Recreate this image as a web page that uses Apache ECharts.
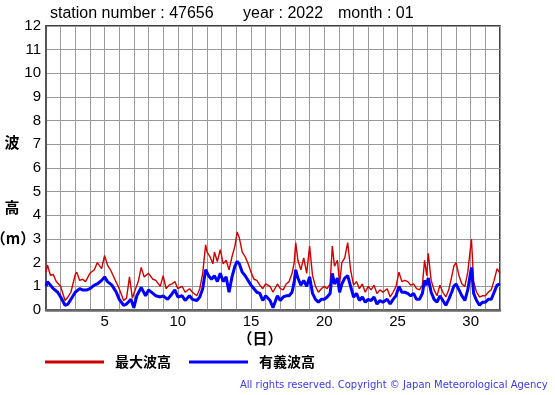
<!DOCTYPE html>
<html>
<head>
<meta charset="utf-8">
<script src="https://cdn.jsdelivr.net/npm/echarts@6/dist/echarts.min.js"></script>
<style>
html,body{margin:0;padding:0;background:#fff;}
#chart{width:555px;height:395px;}
</style>
</head>
<body>
<div id="chart"></div>
<script>
// Day of month (fractional) and maximum wave height (m)
const maxTimes = [1.0,1.1,1.3,1.5,1.7,2.0,2.3,2.5,2.7,3.0,3.1,3.3,3.5,3.7,4.0,4.3,4.5,4.8,5.0,5.2,5.4,5.7,6.0,6.3,6.5,6.7,6.9,7.0,7.3,7.5,7.7,8.0,8.3,8.5,8.8,9.0,
9.2,9.4,9.6,9.8,10.0,10.3,10.5,10.8,11.0,11.3,11.5,11.7,11.9,12.0,12.2,12.4,12.5,12.7,12.9,13.1,13.3,13.5,13.7,13.9,14.05,14.2,14.4,14.6,14.8,15.0,15.2,15.4,15.6,15.8,16.0,16.3,16.5,16.8,17.0,
17.2,17.4,17.6,17.8,17.95,18.05,18.2,18.4,18.6,18.8,19.0,19.2,19.4,19.6,19.8,20.0,20.2,20.4,20.55,20.7,20.9,21.05,21.2,21.4,21.6,21.8,22.0,22.2,22.4,22.6,22.8,23.0,23.2,23.4,23.6,23.8,24.0,
24.3,24.5,24.7,24.9,25.1,25.3,25.5,25.7,25.9,26.1,26.3,26.5,26.7,26.85,27.0,27.1,27.3,27.5,27.7,27.9,28.1,28.3,28.5,28.7,28.85,29.0,29.2,29.4,29.6,29.8,30.05,30.2,30.4,30.6,30.8,31.0,31.2,31.4,31.6,31.8,32.0];
const maxHeights = [1.6,1.9,1.47,1.5,1.2,1.0,0.4,0.55,0.75,1.5,1.6,1.25,1.3,1.2,1.55,1.7,2.0,1.75,2.3,1.9,1.7,1.3,0.9,0.4,0.5,1.4,0.5,0.7,1.2,1.8,1.4,1.55,1.3,1.25,1.0,1.45,
0.9,1.05,1.1,1.2,0.9,1.0,0.75,0.9,0.75,0.6,0.9,1.55,2.75,2.45,2.25,1.95,2.45,2.05,2.55,1.95,2.1,1.7,2.25,2.7,3.3,3.05,2.45,2.25,1.95,1.6,1.3,1.25,1.05,0.9,1.1,1.0,0.75,1.1,0.9,
0.85,1.1,1.2,1.55,2.0,2.85,2.1,1.7,2.2,1.55,2.7,1.45,1.0,0.75,0.9,1.0,0.9,1.1,2.7,1.85,2.1,1.1,2.0,2.2,2.85,1.7,1.05,1.2,0.9,1.1,0.75,1.0,0.85,1.05,0.7,0.85,0.75,
0.9,0.55,0.75,1.0,1.6,1.2,1.25,1.2,1.05,1.1,0.9,0.85,1.05,2.1,1.45,2.4,1.25,0.85,0.6,1.05,0.75,0.55,0.85,1.4,1.85,2.0,1.45,1.1,1.0,1.6,3.0,1.2,0.75,0.55,0.6,0.6,0.75,0.85,1.25,1.75,1.55];

// Day of month (fractional) and significant wave height (m)
const sigTimes = [1.0,1.1,1.3,1.5,1.8,2.0,2.3,2.5,2.8,3.0,3.3,3.5,3.8,4.0,4.3,4.5,4.8,5.0,5.2,5.5,5.8,6.0,6.3,6.5,6.8,7.0,7.2,7.5,7.8,8.0,8.3,8.5,8.8,9.0,
9.3,9.5,9.8,10.0,10.3,10.5,10.8,11.0,11.3,11.5,11.7,11.9,12.1,12.3,12.5,12.7,12.9,13.1,13.3,13.5,13.7,13.9,14.05,14.2,14.4,14.6,14.8,15.0,15.2,15.4,15.6,15.8,16.0,16.3,16.5,16.8,17.0,
17.2,17.4,17.6,17.8,17.95,18.05,18.2,18.4,18.6,18.8,19.0,19.2,19.4,19.6,19.8,20.0,20.2,20.4,20.55,20.7,20.9,21.05,21.2,21.4,21.6,21.8,22.0,22.2,22.4,22.6,22.8,23.0,23.2,23.4,23.6,23.8,24.0,
24.3,24.5,24.7,24.9,25.1,25.3,25.5,25.7,25.9,26.1,26.3,26.5,26.7,26.85,27.0,27.1,27.3,27.5,27.7,27.9,28.1,28.3,28.5,28.7,28.85,29.0,29.2,29.4,29.6,29.8,30.05,30.2,30.4,30.6,30.8,31.0,31.2,31.4,31.6,31.8,32.0];
const sigHeights = [1.0,1.2,1.05,0.9,0.75,0.55,0.2,0.25,0.55,0.75,0.9,0.85,0.85,0.9,1.05,1.1,1.25,1.4,1.2,1.05,0.75,0.45,0.2,0.25,0.45,0.1,0.6,0.95,0.6,0.85,0.7,0.6,0.55,0.6,
0.45,0.6,0.85,0.55,0.6,0.4,0.6,0.45,0.4,0.55,0.9,1.7,1.45,1.3,1.45,1.2,1.55,1.2,1.4,0.75,1.4,1.85,2.05,1.95,1.6,1.45,1.25,1.05,0.9,0.75,0.7,0.4,0.6,0.4,0.1,0.6,0.4,
0.55,0.6,0.6,0.75,1.2,1.7,1.35,1.05,1.25,1.0,1.4,0.7,0.45,0.33,0.45,0.45,0.55,0.7,1.55,1.1,1.35,0.75,1.1,1.35,1.45,1.0,0.55,0.7,0.4,0.55,0.33,0.45,0.4,0.55,0.25,0.4,0.33,
0.45,0.25,0.45,0.6,1.0,0.75,0.75,0.7,0.6,0.7,0.45,0.45,0.7,1.25,1.05,1.35,0.75,0.45,0.33,0.6,0.4,0.2,0.45,0.75,1.0,1.1,0.85,0.6,0.4,0.85,1.8,0.7,0.4,0.2,0.33,0.33,0.45,0.45,0.75,1.05,1.1];

const xLabelDays = [5, 10, 15, 20, 25, 30];
const seriesNames = ['最大波高', '有義波高'];
const titleParts = ['station number : 47656', 'year : 2022', 'month : 01'];
const yNameParts = ['波', '高', '（m）'];
const xName = '（日）';
const copyright = 'All rights reserved. Copyright © Japan Meteorological Agency';

const zip = (a, b) => a.map((t, i) => [t, b[i]]);

const chart = echarts.init(document.getElementById('chart'), null, {renderer: 'canvas'});
const latin = '"Liberation Sans", Arial, sans-serif';
const cjk = '"Noto Sans CJK JP", sans-serif';

chart.setOption({
  animation: false,
  backgroundColor: '#fff',
  grid: {left: 46, right: 55, top: 26, bottom: 85, show: true, borderColor: '#000', borderWidth: 1.5},
  xAxis: {
    type: 'value', min: 1, max: 32, interval: 1,
    axisLine: {show: true, lineStyle: {color: '#6a6a6a', width: 2.5}},
    axisTick: {show: false},
    splitLine: {show: true, lineStyle: {color: '#999', width: 1}},
    axisLabel: {
      margin: 4, color: '#000', fontSize: 15, fontFamily: latin,
      formatter: v => xLabelDays.includes(v) ? String(v) : ''
    }
  },
  yAxis: {
    type: 'value', min: 0, max: 12, interval: 1,
    axisLine: {show: true, lineStyle: {color: '#555', width: 2}},
    axisTick: {show: false},
    splitLine: {show: true, lineStyle: {color: '#999', width: 1}},
    axisLabel: {margin: 5, color: '#000', fontSize: 15, fontFamily: latin}
  },
  legend: {
    data: seriesNames, left: 45, top: 355, padding: 0, icon: 'rect',
    itemWidth: 59, itemHeight: 3, itemGap: 18,
    textStyle: {color: '#000', fontSize: 14, fontWeight: 'bold', fontFamily: cjk, padding: [0, 0, 0, 6]}
  },
  series: [
    {name: seriesNames[0], type: 'line', data: zip(maxTimes, maxHeights), showSymbol: false,
     color: '#cc0000', lineStyle: {color: '#cc0000', width: 1.4}},
    {name: seriesNames[1], type: 'line', data: zip(sigTimes, sigHeights), showSymbol: false,
     color: '#0000ff', lineStyle: {color: '#0000ff', width: 3}}
  ],
  graphic: [
    {type: 'text', left: 50, top: 6, style: {text: titleParts[0], font: '16px ' + latin, fill: '#000'}},
    {type: 'text', left: 243, top: 6, style: {text: titleParts[1], font: '16px ' + latin, fill: '#000'}},
    {type: 'text', left: 338, top: 6, style: {text: titleParts[2], font: '16px ' + latin, fill: '#000'}},
    {type: 'text', x: 12, y: 142, style: {text: yNameParts[0], font: 'bold 15px ' + cjk, fill: '#000', align: 'center', verticalAlign: 'middle'}},
    {type: 'text', x: 12, y: 207, style: {text: yNameParts[1], font: 'bold 15px ' + cjk, fill: '#000', align: 'center', verticalAlign: 'middle'}},
    {type: 'text', x: 13, y: 238, style: {text: yNameParts[2], font: 'bold 15px ' + cjk, fill: '#000', align: 'center', verticalAlign: 'middle'}},
    {type: 'text', x: 260, y: 338, style: {text: xName, font: 'bold 15px ' + cjk, fill: '#000', align: 'center', verticalAlign: 'middle'}},
    {type: 'text', x: 240, y: 385, style: {text: copyright, font: '10px "DejaVu Sans", sans-serif', fill: '#3a3ae0', align: 'left', verticalAlign: 'middle'}}
  ]
});
</script>
</body>
</html>
